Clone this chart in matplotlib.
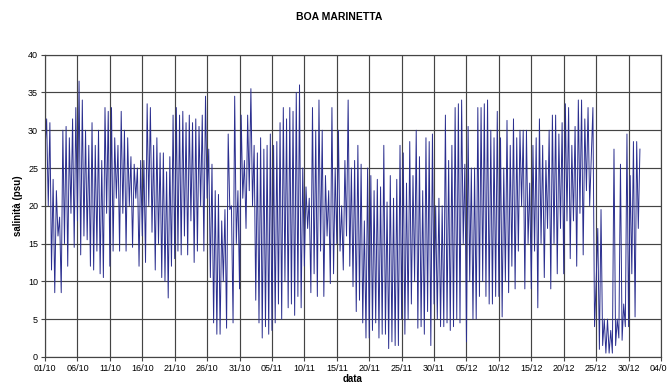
import numpy as np
import matplotlib.pyplot as plt

# salinity, 4 readings per day (every 6 h) from 01/10
salinity = [
    27.5, 31.5, 20, 31,   11.5, 23.5, 8.5, 22,   16, 18.5, 8.5, 30,   15, 30.5, 12, 29,
    19, 31.5, 14.5, 33,   18, 36.5, 13.5, 34,   16, 30, 15.5, 28,   12, 31, 11.5, 28,
    14, 30, 11, 26,       10.5, 33, 19, 32.5,   12, 33, 14, 29,     21, 28, 14, 32.5,
    19, 30, 14, 29,       20, 26.5, 14.5, 25.5, 21, 25, 12, 26,     16, 26, 12.5, 33.5,
    20, 33, 16.5, 28,     11.5, 29, 15, 27,     10.5, 27, 10, 24.5, 7.8, 26.5, 12, 32,
    13, 33, 14, 32,       13.5, 32.5, 16, 31,   13.5, 32, 18, 31,   12.5, 31.5, 14, 30.5,
    20, 32, 14, 34.5,     21, 27.5, 10.5, 25.5, 4.5, 22, 3, 21.5,   3, 18, 10, 19.5,
    3.8, 29.5, 19.5, 20,  4.5, 34.5, 15, 22,    9, 32, 21, 26,      17, 32, 22, 35.5,
    20, 28, 7.5, 27,      4.5, 29, 2.5, 27.5,   4, 28, 3, 29.5,     3.5, 28, 4.5, 28.5,
    7, 31, 5, 33,         10, 31.5, 6.5, 33,    7, 32.5, 5.5, 35,   8, 36, 6.5, 25,
    12, 22.5, 17, 21,     8.5, 33, 11, 30,      8, 34, 14, 30,      8, 24, 16, 22,
    9.7, 33, 11, 25,      15, 30, 14, 20,       11.5, 26, 16, 34,   12, 25, 9.3, 26,
    6, 28, 7.5, 25.5,     4.5, 18, 2.5, 25,     2.5, 24, 3.5, 22,   4.5, 23.5, 2.5, 22.5,
    3, 28, 3, 20.5,       1.1, 24, 2, 21,       1.5, 23.5, 1.5, 28, 5, 27, 3, 23,
    5, 28.5, 7, 24,       10, 30, 3.8, 26.5,    4, 22, 3, 29,       6, 28.5, 1.5, 29.5,
    7, 20, 5, 21,         4, 20, 4, 32,         4.5, 26, 3.5, 28,   4, 33, 5, 33.5,
    4.5, 34, 15, 25.5,    2, 30.5, 10, 25,      5, 25, 5, 33,       8, 33, 10, 33.5,
    8, 34, 7, 30,         7, 29, 8, 32.5,       8, 29, 5.3, 25,     10, 31.3, 8.5, 28,
    12, 31.5, 9, 29,      14, 30, 20, 30,       9, 30, 15, 23,      9, 28, 14, 29,
    6.5, 31.5, 15, 28,    10.5, 26, 17, 30,     9, 32, 15, 32,      11, 29.5, 17, 31,
    11, 33.5, 18, 33,     13, 28, 18, 30.5,     12, 34, 19, 34,     13.5, 31.5, 22, 33,
    20, 26.5, 33, 4,      10, 17, 1, 19.5,      1.5, 5, 0.5, 5,     0.5, 3.5, 0.5, 27.5,
    1.5, 5, 2.5, 25.5,    2.2, 7, 4, 29.5,      4, 24, 11, 28.5,    5.3, 28.5, 17, 27.5,
]

tick_labels = ['01/10', '06/10', '11/10', '16/10', '21/10', '26/10', '31/10',
               '05/11', '10/11', '15/11', '20/11', '25/11', '30/11', '05/12',
               '10/12', '15/12', '20/12', '25/12', '30/12', '04/01']

plt.rcParams['font.family'] = ['Liberation Sans', 'DejaVu Sans']

days = np.arange(len(salinity)) * 0.25

fig = plt.figure(figsize=(6.67, 3.85), dpi=100)
ax = fig.add_axes([0.0675, 0.073, 0.9235, 0.785])

ax.plot(days, salinity, color='#2b2f8f', linewidth=0.7)

ax.set_xlim(0, 95)
ax.set_ylim(0, 40)
ax.set_xticks(np.arange(len(tick_labels)) * 5)
ax.set_xticklabels(tick_labels)
ax.set_yticks(np.arange(0, 41, 5))
ax.tick_params(labelsize=6.5, length=3, width=0.8, color='#444444', pad=2)

ax.grid(True, color='#444444', linewidth=0.85)
ax.set_axisbelow(True)
for s in ax.spines.values():
    s.set_color('#444444')
    s.set_linewidth(0.85)

ax.set_xlabel('data', fontsize=7, fontweight='bold', labelpad=1)
ax.set_ylabel('salinità (psu)', fontsize=7, fontweight='bold', labelpad=4)
fig.text(0.508, 0.955, 'BOA MARINETTA', ha='center', va='center',
         fontsize=7.5, fontweight='bold')

fig.savefig('out.png', dpi=100)
